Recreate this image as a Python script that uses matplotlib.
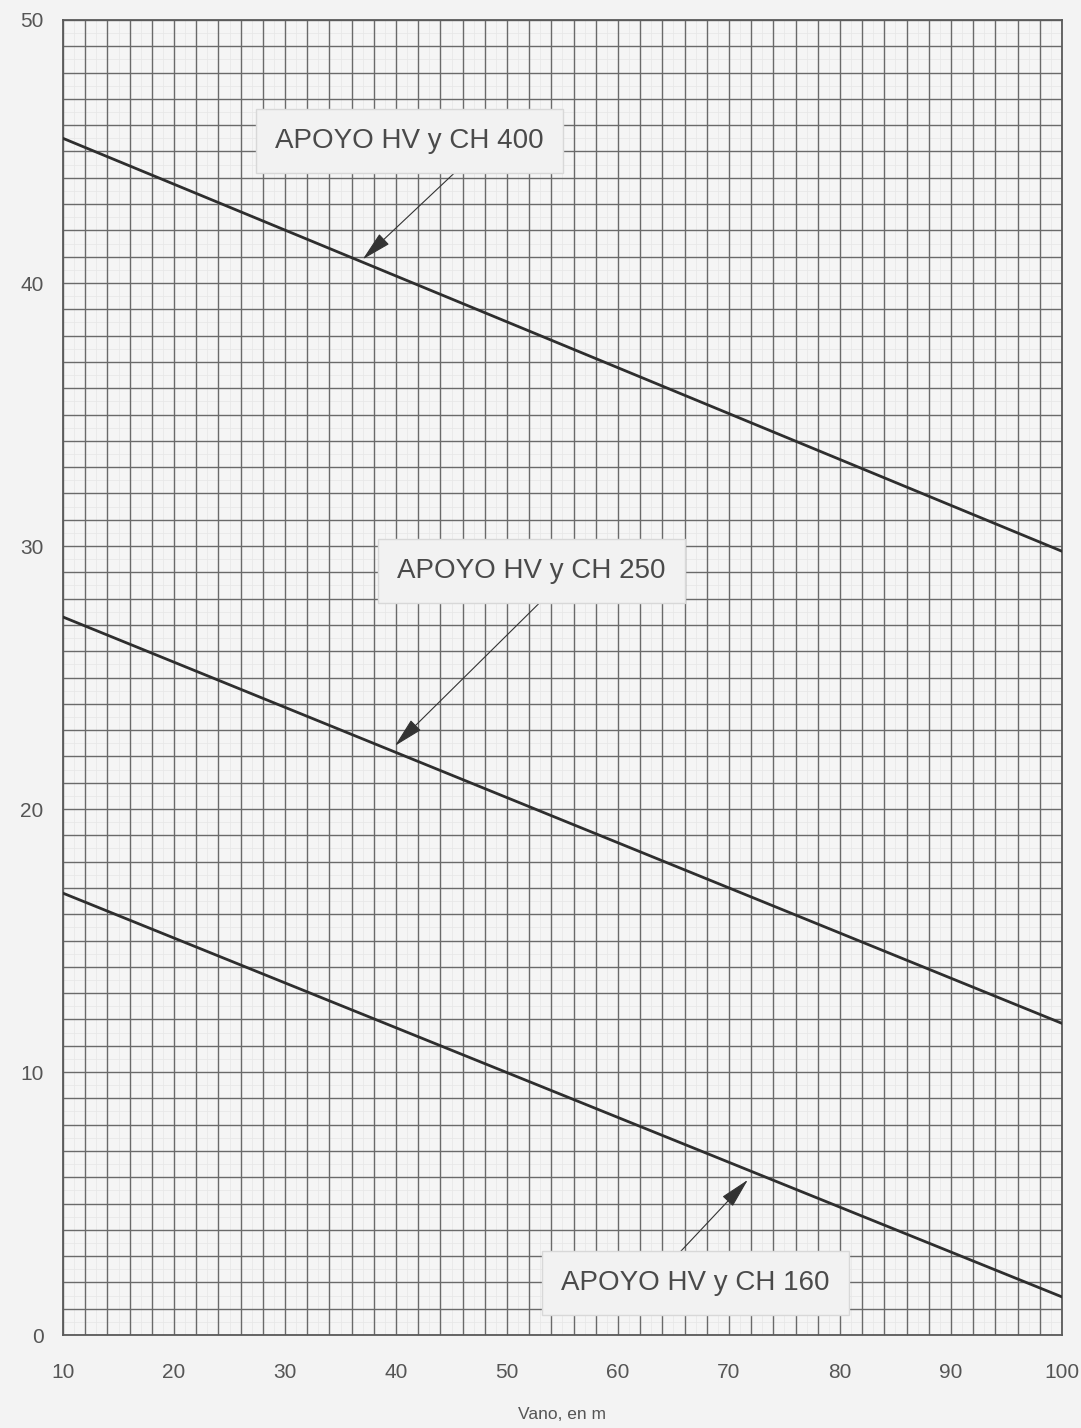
import numpy as np
import matplotlib
matplotlib.use("Agg")
from matplotlib import pyplot as plt

# span (m) at the two ends of each line
vano = [10, 100]
ch400 = [45.5, 29.8]
ch250 = [27.3, 11.85]
ch160 = [16.8, 1.45]

labels = ["APOYO HV y CH 400", "APOYO HV y CH 250", "APOYO HV y CH 160"]
# label box centre, arrow start, arrow tip
label_xy = [(41.2, 45.4), (52.2, 29.05), (67.0, 1.98)]
start_xy = [(45.3, 44.2), (53.2, 27.95), (65.6, 3.16)]
tip_xy = [(37.0, 40.9), (39.9, 22.4), (71.7, 5.9)]

xticks = [10, 20, 30, 40, 50, 60, 70, 80, 90, 100]
yticks = [0, 10, 20, 30, 40, 50]

plt.rcParams['font.family'] = ['Liberation Sans', 'DejaVu Sans']

fig = plt.figure(figsize=(10.81, 14.28), dpi=100, facecolor='#f3f3f3')
ax = fig.add_axes([0.0583, 0.0651, 0.9241, 0.9209])
ax.set_facecolor('#f5f5f5')

ax.set_xlim(10, 100)
ax.set_ylim(0, 50)

# fine background grid (very faint)
for x in np.arange(10, 100.1, 1):
  ax.axvline(x, color='#e6e6e6', lw=0.5, zorder=0)
for y in np.arange(0, 50.1, 0.5):
  ax.axhline(y, color='#e6e6e6', lw=0.5, zorder=0)
# main grid
for x in np.arange(10, 100.1, 2):
  ax.axvline(x, color='#6a6a6a', lw=1.0, zorder=1)
for y in np.arange(0, 50.1, 1):
  ax.axhline(y, color='#6a6a6a', lw=1.0, zorder=1)

for s in ax.spines.values():
  s.set_color('#5a5a5a')
  s.set_linewidth(1.3)

for serie in [ch400, ch250, ch160]:
  ax.plot(vano, serie, color='#2e2e2e', lw=2.0, zorder=3)

for lab, (lx, ly), (sx, sy), (tx, ty) in zip(labels, label_xy, start_xy, tip_xy):
  ax.annotate('', xy=(tx, ty), xytext=(sx, sy), zorder=4,
              arrowprops=dict(arrowstyle='-|>,head_length=1.9,head_width=0.45',
                              mutation_scale=10, color='#333333', lw=0.8,
                              shrinkA=0, shrinkB=0))
  ax.text(lx, ly, lab, ha='center', va='center', fontsize=20, color='#4a4a4a',
          zorder=5, bbox=dict(boxstyle='square,pad=0.7', fc='#f2f2f2', ec='#d8d8d8', lw=1))

ax.set_xticks(xticks)
ax.set_yticks(yticks)
ax.tick_params(length=0, labelsize=15, labelcolor='#555555')
ax.tick_params(axis='x', pad=20)
ax.tick_params(axis='y', pad=14)
ax.set_xlabel("Vano, en m", fontsize=12.5, color='#555555', labelpad=18)

fig.savefig("out.png", dpi=100, facecolor=fig.get_facecolor())
